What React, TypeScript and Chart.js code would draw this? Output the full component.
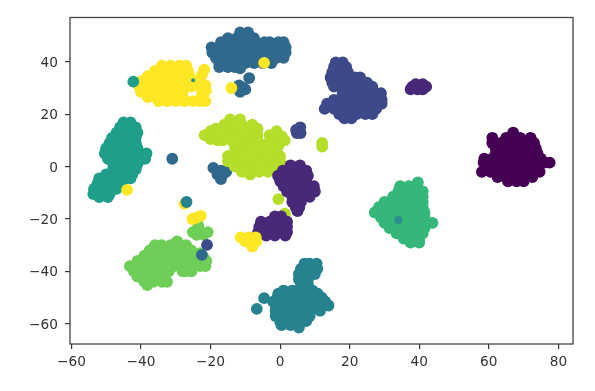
import React, { useEffect, useRef } from "react";
import { Chart, registerables } from "chart.js";

Chart.register(...registerables);

type Row = [number, number[]];

const xTicks = [-60, -40, -20, 0, 20, 40, 60, 80];
const yTicks = [-60, -40, -20, 0, 20, 40];
const viridis = ["#440154", "#482878", "#3e4989", "#31688e", "#26828e", "#1f9e89", "#35b779", "#6ece58", "#b5de2b", "#fde725"];

const digit0: Row[] = [
  [13, [67]], [11, [61, 65, 67, 69, 72]], [9, [61, 63.5, 66, 68.5, 71, 73]], [7, [62, 64.5, 67, 69.5, 72, 73.5]],
  [5, [62, 64.5, 67, 69.5, 72, 74]], [3, [58.7, 61, 63.5, 66, 68.5, 71, 73.5, 75]],
  [1.5, [58.5, 61, 63.5, 66, 68.5, 71, 73.5, 76, 77.5]], [0, [59, 61.5, 64, 66.5, 69, 71.5, 74]],
  [-2, [58, 60.5, 63, 65.5, 68, 70.5, 73, 74.6]], [-4, [62.5, 65, 67.5, 70, 72.5]], [-5.6, [65.5, 68, 70]],
];
const digit1: Row[] = [
  [31.5, [39, 41]], [30.5, [38, 40, 42]], [29.5, [37.5, 39.5, 41]],
  [0.5, [3, 5.7]], [-1.5, [0.8, 3.3, 5.8, 7.5]], [-3.5, [-0.6, 1.9, 4.4, 6.9, 8]], [-5.5, [0, 2.5, 5, 7.5]],
  [-7.5, [1, 3.5, 6, 8.5, 9.7]], [-9.5, [2, 4.5, 7, 9.5, 10]], [-11.5, [3.5, 6, 8.5]], [-13.5, [3.5, 6]],
  [-15.5, [4.5, 5.5]], [-17, [5]],
  [-19, [-1.5, 0.3]], [-21, [-5.5, -3, -0.5, 2]], [-23, [-6, -3.5, -1, 1.5, 2]], [-25, [-6.3, -3.8, -1.3, 1.2, 2]],
  [-26.3, [-4, -1.5, 1.5]],
];
const digit2: Row[] = [
  [39.8, [16, 18]], [38, [15.5, 18, 19]], [36, [15, 17.5, 19.5]], [34, [14.5, 17, 19.5, 21.5, 23]],
  [32, [15, 17.5, 20, 22.5, 25]], [30.5, [15.5, 17.5, 20, 22.5, 25, 26.5]], [28, [18, 20.5, 23, 25.5, 27.5, 29]],
  [25.5, [15.5, 17.5, 20, 22.5, 25, 27.5, 29.2]], [24, [13.5, 16, 18.5, 21, 23.5, 26, 28.5, 29.2]],
  [22, [12.8, 15.5, 18, 20.5, 23, 25.5, 27.6]], [20, [17, 19.5, 22, 24.5, 26.5]], [18.4, [18.5, 20.5]],
  [15, [5.8]], [14, [4.6]], [12.8, [4.8, 5.9]],
];
const digit3: Row[] = [
  [51.2, [-11.5, -9.2]], [49, [-15, -12.5, -10, -7.5]], [47.5, [-17, -14.5, -12, -9.5, -7, -4.5, -3, -0.5, 1]],
  [45.5, [-19.7, -17, -14.5, -12, -9.5, -7, -4.5, -2, 0.5, 1.6]], [43.5, [-19.5, -17, -14.5, -12, -9.5, -7, -4.5, -2, 0.5, 1.6]],
  [41.5, [-18.5, -16, -13.5, -11, -8.5, -6, -3.5, -1, 1]], [39.5, [-17.5, -15, -12.5, -10, -7.5, -5, -2.5]],
  [38, [-17.5, -15, -13]], [37.5, [-11.5]],
  [33.8, [-8.9]], [31, [-11.8]], [30, [-10.5]], [29.5, [-10]], [28.5, [-11.5]],
  [3, [-31]], [-0.5, [-19.2]], [-1.5, [-17]], [-2, [-15.5]], [-3, [-18, -16.5]], [-4.8, [-17]],
];
const digit4: Row[] = [
  [-37, [7, 8.5, 10.5]], [-39, [6, 8.5, 10.7]], [-41, [5.4, 8, 10]], [-43, [5.4, 8]], [-45, [6, 8]],
  [-47.3, [1, 3.5, 6, 8.5, 9.3]], [-48.5, [-0.5, 10.8]], [-49.5, [-0.7, 1.8, 4.3, 6.8, 9.3, 10]], [-50, [12]], [-50.2, [-4.6]],
  [-51.5, [-2, 0.5, 3, 5.5, 8, 10.5, 13]], [-53, [-1.3, 1.2, 3.7, 6.2, 8.7, 11.2, 13.9]], [-54.3, [-6.7]],
  [-55, [-1.3, 1.2, 3.7, 6.2, 8.7, 11.5]], [-57, [-1.3, 1.2, 3.7, 6.2, 8.5]], [-59, [0, 2.5, 5, 7.5]],
  [-60.5, [0.4, 3, 5.4]], [-61.4, [5.4]],
];
const digit5: Row[] = [
  [16.9, [-45, -43]], [15, [-46, -43.5, -41.5]], [13, [-47, -44.5, -42, -41]], [11, [-48.3, -46, -43.5, -41.5]],
  [9, [-49, -46.5, -44, -41.5]], [7, [-50, -47.5, -45, -42.5, -41]], [5, [-50.4, -48, -45.5, -43, -40.5, -38.4]],
  [3, [-49.5, -47, -44.5, -42, -40, -38.8]], [1, [-48, -45.5, -43, -41]], [-1, [-48, -45.5, -43, -41.5]],
  [-3, [-50, -47.5, -45, -42.5]], [-4.5, [-52, -49.5, -47, -44.5, -43]], [-6.5, [-52.5, -50, -47.5, -45.5]],
  [-8.5, [-53.5, -51, -48.5, -47]], [-10.5, [-53.7, -51, -49]], [-11.6, [-52, -49.5]],
];
const digit6: Row[] = [
  [-6, [39.6]], [-7.5, [34.5, 37, 39]], [-9.5, [34, 36.5, 39, 41]], [-11.5, [32.5, 35, 37.5, 40, 41]],
  [-13.5, [30, 32.5, 35, 37.5, 40, 41]], [-15.5, [28.4, 31, 33.5, 36, 38.5, 41]],
  [-17.5, [27.2, 29.5, 32, 34.5, 37, 39.5, 41.5]], [-19.5, [29, 31.5, 34, 36.5, 39, 41.5]],
  [-21.5, [30, 32.5, 35, 37.5, 40, 42, 43.8]], [-23.5, [31.5, 34, 36.5, 39, 41.5]],
  [-25.5, [33.5, 36, 38.5, 41]], [-27.5, [35.5, 38, 40]], [-29, [37.5, 40]],
];
const digit7: Row[] = [
  [-28.5, [-29.6]], [-30, [-36, -34, -31.5, -29, -27]], [-32, [-37.5, -35, -32.5, -30, -27.5, -25.5]],
  [-33, [-23]], [-34, [-39, -36.5, -34, -31.5, -29, -26.5, -24]], [-34.5, [-22]],
  [-36, [-41, -38.5, -36, -33.5, -31, -28.5, -26, -23.5, -21.2]],
  [-38, [-43.2, -40.5, -38, -35.5, -33, -30.5, -28, -25.5, -23, -21.5]], [-40, [-42, -39.5, -37, -34.5, -32, -28, -27.3, -25.5]],
  [-42, [-41, -38.5, -36, -33.5]], [-44, [-39, -36.5, -34, -32.5]], [-45.2, [-38.2]],
  [-22.5, [-23.5]], [-25, [-25.1, -23, -20.8]], [-26, [-24, -22]],
];
const digit8: Row[] = [
  [18, [-14.4, -11.5]], [16, [-16, -13.5, -11, -8]], [14.5, [-18.5, -16, -13.5, -11, -8.5, -6.5]], [13.5, [-20, -1]],
  [12, [-21.7, -18, -15.5, -13, -10.5, -8, -6.5, -3, -0.9]], [11.5, [0.5]],
  [10.5, [-20]], [10, [-18, -16.5, -14, -11.5, -9, -6.5, -1.5, 1.3]], [8.5, [-4]], [8, [-13, -10.5, -8, -5.5, -3, -0.5]],
  [6, [-13, -10.5, -8, -5.5, -3, -1]], [4, [-15, -12.5, -10, -7.5, -5, -2.5, 0]], [2, [-15, -12.5, -10, -7.5, -5, -2.5, 0]],
  [0, [-13, -10.5, -8, -5.5, -3, -1]], [-2, [-11, -8.5, -6, -3.5]], [-3, [-8.6]],
  [9, [12.1]], [7.6, [12.1]], [-12.4, [-0.5]], [-18, [1.4]],
];
const digit9: Row[] = [
  [38.5, [-34, -31.5, -29, -27]], [36.5, [-36, -33.5, -31, -28.5, -26.5]], [34.5, [-38, -35.5, -33, -30.5, -28, -26]],
  [32.5, [-40, -37.5, -35, -32.5, -30, -27.5, -25.5]], [30.5, [-40.5, -38, -35.5, -33, -30.5, -28, -25.5]],
  [28.5, [-40, -37.5, -35, -32.5, -30, -28]], [26.5, [-38, -35.5, -33, -30.5, -28]], [25, [-35, -32.5, -30, -27.5, -25]],
  [37, [-21.8]], [35, [-22.5]], [33, [-23]], [31, [-23, -21.5]], [29, [-22.5, -21.3]], [27, [-22.5]], [25, [-23, -21.5]],
  [39.6, [-4.6]], [30, [-14]], [-8.9, [-44]], [-14.2, [-27.5]],
  [-20, [-25.2]], [-19.5, [-24]], [-18.8, [-22.8]],
  [-27, [-11.3, -9, -7]], [-28.5, [-10, -6.9]], [-29, [-8]], [-30.5, [-8]],
];
const strays5: Row[] = [[32.4, [-42.2]]];
const strays4: Row[] = [[-13.5, [-26.9]]];
const strays2: Row[] = [[-29.9, [-21]]];
const strays3: Row[] = [[-33.7, [-22.5]]];
const strays1: Row[] = [[-20.5, [0.2]]];
const specks: Row[] = [[-20.4, [34]], [33, [-25]]];
const speckRadii = [4, 2];

const toPoints = (rows: Row[]) => rows.flatMap(([y, xs]) => xs.map((x) => ({ x, y })));

const dot = 5.9;
const groups: { rows: Row[]; color: string; radius: number | number[] }[] = [
  { rows: digit0, color: viridis[0], radius: dot },
  { rows: digit2, color: viridis[2], radius: dot },
  { rows: digit3, color: viridis[3], radius: dot },
  { rows: digit4, color: viridis[4], radius: dot },
  { rows: digit5, color: viridis[5], radius: dot },
  { rows: digit6, color: viridis[6], radius: dot },
  { rows: digit7, color: viridis[7], radius: dot },
  { rows: digit8, color: viridis[8], radius: dot },
  { rows: digit1, color: viridis[1], radius: dot },
  { rows: digit9, color: viridis[9], radius: dot },
  { rows: strays1, color: viridis[1], radius: 5 },
  { rows: strays2, color: viridis[2], radius: dot },
  { rows: strays3, color: viridis[3], radius: dot },
  { rows: strays4, color: viridis[4], radius: dot },
  { rows: strays5, color: viridis[5], radius: dot },
  { rows: specks, color: "#2b8f8e", radius: speckRadii },
];

const tickFont = { family: "'DejaVu Sans'", size: 13.7 };
const label = (v: string | number) => String(v).replace("-", "\u2212");

export default function App() {
  const ref = useRef<HTMLCanvasElement>(null);
  useEffect(() => {
    if (!ref.current) return;
    const frame = {
      id: "frame",
      afterDatasetsDraw(c: any) {
        const { left, right, top, bottom } = c.chartArea;
        const g = c.ctx;
        g.save();
        g.strokeStyle = "#444";
        g.lineWidth = 1.3;
        g.strokeRect(left, top, right - left, bottom - top);
        g.restore();
      },
    };
    const chart = new Chart(ref.current, {
      type: "scatter",
      data: {
        datasets: groups.map((g, i) => ({
          data: toPoints(g.rows),
          backgroundColor: g.color,
          borderWidth: 0,
          pointRadius: g.radius as any,
          order: -i,
        })),
      },
      options: {
        animation: false,
        responsive: false,
        layout: { padding: { top: 17.5, right: 22, left: 0, bottom: 0 } },
        plugins: { legend: { display: false }, tooltip: { enabled: false } },
        scales: {
          x: {
            type: "linear",
            min: -60.4,
            max: 84.2,
            afterBuildTicks: (s: any) => { s.ticks = xTicks.map((value) => ({ value })); },
            afterFit: (s: any) => { s.height = 47; },
            grid: { drawOnChartArea: false, drawTicks: true, tickLength: 5, color: "#333", lineWidth: 1.2 },
            border: { display: false },
            ticks: { font: tickFont, color: "#333", padding: 5, maxRotation: 0, autoSkip: false, callback: label },
          },
          y: {
            type: "linear",
            min: -67.7,
            max: 56.9,
            afterBuildTicks: (s: any) => { s.ticks = yTicks.map((value) => ({ value })); },
            afterFit: (s: any) => { s.width = 70; },
            grid: { drawOnChartArea: false, drawTicks: true, tickLength: 5, color: "#333", lineWidth: 1.2 },
            border: { display: false },
            ticks: { font: tickFont, color: "#333", padding: 7, labelOffset: 1.5, autoSkip: false, callback: label },
          },
        },
      },
      plugins: [frame],
    } as any);
    return () => chart.destroy();
  }, []);
  return (
    <div style={{ position: "absolute", left: 0, top: 0, width: 595, height: 391, background: "#fff" }}>
      <canvas ref={ref} width={595} height={391} style={{ display: "block", filter: "blur(0.4px)" }} />
    </div>
  );
}
